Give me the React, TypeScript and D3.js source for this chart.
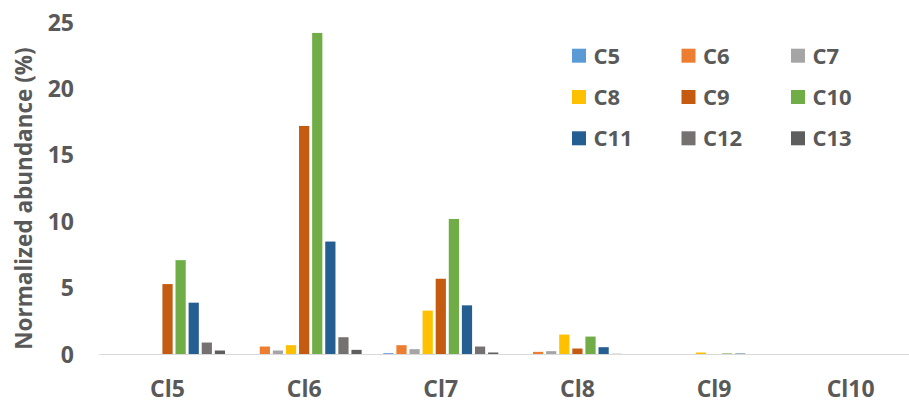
import React, { useEffect, useRef } from "react";
import * as d3 from "d3";

const categories = ["Cl5", "Cl6", "Cl7", "Cl8", "Cl9", "Cl10"];
const seriesNames = ["C5", "C6", "C7", "C8", "C9", "C10", "C11", "C12", "C13"];
const seriesColors = ["#5B9BD5", "#ED7D31", "#A5A5A5", "#FFC000", "#C55A11", "#70AD47", "#255E91", "#767171", "#5E5E5E"];
// values[series][category]
const C5 = [0, 0, 0.1, 0, 0, 0];
const C6 = [0, 0.6, 0.7, 0.2, 0, 0];
const C7 = [0, 0.3, 0.4, 0.25, 0, 0];
const C8 = [0, 0.7, 3.3, 1.5, 0.15, 0];
const C9 = [5.3, 17.2, 5.7, 0.45, 0.02, 0];
const C10 = [7.1, 24.2, 10.2, 1.35, 0.08, 0];
const C11 = [3.9, 8.5, 3.7, 0.55, 0.07, 0];
const C12 = [0.9, 1.3, 0.6, 0.05, 0, 0];
const C13 = [0.3, 0.35, 0.15, 0, 0, 0];
const seriesValues = [C5, C6, C7, C8, C9, C10, C11, C12, C13];
const yTicks = [0, 5, 10, 15, 20, 25];

const W = 909;
const H = 400;
const FONT = "'Open Sans', sans-serif";
const TEXT = "#595959";

export default function App() {
  const ref = useRef<SVGSVGElement>(null);
  useEffect(() => {
    const svg = d3.select(ref.current);
    svg.selectAll("*").remove();
    const x0 = d3.scaleBand<string>().domain(categories).range([99.2, 919]).padding(0);
    const x1 = d3
      .scaleBand<string>()
      .domain(seriesNames)
      .range([0, x0.bandwidth()])
      .paddingInner(0.22)
      .paddingOuter(0.825);
    const y = d3.scaleLinear().domain([0, 25]).range([354.5, 22.3]);

    // bars
    seriesNames.forEach((s, si) => {
      svg
        .append("g")
        .selectAll("rect")
        .data(categories.map((c, ci) => ({ c, v: seriesValues[si][ci] })))
        .join("rect")
        .attr("x", (d) => (x0(d.c) as number) + (x1(s) as number))
        .attr("width", x1.bandwidth())
        .attr("y", (d) => y(d.v))
        .attr("height", (d) => y(0) - y(d.v))
        .attr("fill", seriesColors[si]);
    });

    // baseline
    svg
      .append("line")
      .attr("x1", 99.2)
      .attr("x2", W)
      .attr("y1", y(0))
      .attr("y2", y(0))
      .attr("stroke", "#D9D9D9")
      .attr("stroke-width", 1.2);

    // y tick labels
    svg
      .append("g")
      .selectAll("text")
      .data(yTicks)
      .join("text")
      .attr("x", 74)
      .attr("y", (d) => y(d) + 8.2)
      .attr("text-anchor", "end")
      .attr("font-family", FONT)
      .attr("font-weight", "bold")
      .attr("font-size", 23)
      .attr("fill", TEXT)
      .text((d) => String(d));

    // category labels
    svg
      .append("g")
      .selectAll("text")
      .data(categories)
      .join("text")
      .attr("x", (d) => (x0(d) as number) + x0.bandwidth() / 2)
      .attr("y", 397)
      .attr("text-anchor", "middle")
      .attr("font-family", FONT)
      .attr("font-weight", "bold")
      .attr("font-size", 23)
      .attr("fill", TEXT)
      .text((d) => d);

    // y title
    svg
      .append("text")
      .attr("transform", "translate(31.5,198.5) rotate(-90)")
      .attr("text-anchor", "middle")
      .attr("font-family", FONT)
      .attr("font-weight", "bold")
      .attr("font-size", 22.5)
      .attr("fill", TEXT)
      .text("Normalized abundance (%)");

    // legend
    const lg = svg.append("g");
    seriesNames.forEach((s, i) => {
      const col = i % 3;
      const row = Math.floor(i / 3);
      const lx = 572 + col * 109.5;
      const ly = 55.7 + row * 41.3;
      lg.append("rect")
        .attr("x", lx)
        .attr("y", ly - 7)
        .attr("width", 14)
        .attr("height", 14)
        .attr("fill", seriesColors[i]);
      lg.append("text")
        .attr("x", lx + 21.5)
        .attr("y", ly + 7.8)
        .attr("font-family", FONT)
        .attr("font-weight", "bold")
        .attr("font-size", 22)
        .attr("fill", TEXT)
        .text(s);
    });
  }, []);
  return (
    <svg
      ref={ref}
      width={W}
      height={H}
      style={{ position: "absolute", left: 0, top: 0, background: "#fff" }}
    />
  );
}
